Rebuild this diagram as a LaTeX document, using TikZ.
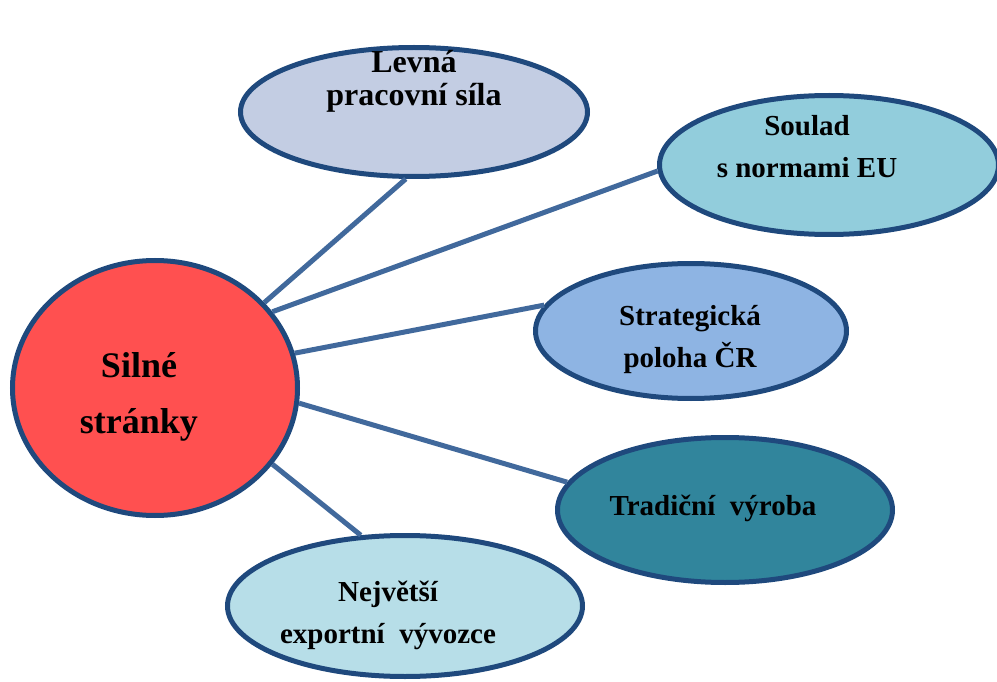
\documentclass[tikz,border=0pt]{standalone}
\usepackage{fontspec}
\setmainfont{Liberation Serif}
\usetikzlibrary{shapes.geometric}

\definecolor{rimblue}{HTML}{1F497D}
\definecolor{linkblue}{HTML}{41699C}
\definecolor{corered}{HTML}{FF5050}
\definecolor{greyblue}{HTML}{C3CDE3}
\definecolor{aqua}{HTML}{92CDDC}
\definecolor{skyblue}{HTML}{8EB4E3}
\definecolor{teal}{HTML}{31859C}
\definecolor{paleaqua}{HTML}{B7DEE8}

\begin{document}
\begin{tikzpicture}[x=1pt, y=-1pt,
  bubble/.style={ellipse, draw=rimblue, line width=5pt, inner sep=0pt},
  caption/.style={anchor=base, align=center, font=\bfseries\fontsize{29}{42}\selectfont},
  link/.style={draw=linkblue, line width=5pt}]

\useasboundingbox (0,0) rectangle (997,682);
\clip (0,0) rectangle (997,682);

% Centre
\node[bubble, fill=corered, minimum width=285, minimum height=255] (silne) at (155,388) {};
\node[caption, font=\bfseries\fontsize{36}{56}\selectfont] (silneT) at (139,433) {Silné\\stránky};

% Surrounding bubbles
\node[bubble, fill=greyblue, minimum width=347, minimum height=129] (levna) at (414,112) {};
\node[caption, font=\bfseries\fontsize{32}{33}\selectfont] (levnaT) at (414,106) {Levná\\pracovní síla};

\node[bubble, fill=aqua, minimum width=339, minimum height=139] (soulad) at (829,165) {};
\node[caption] (souladT) at (807,178) {Soulad\\s normami EU};

\node[bubble, fill=skyblue, minimum width=311, minimum height=135] (poloha) at (691,331) {};
\node[caption] (polohaT) at (690,367) {Strategická\\poloha ČR};

\node[bubble, fill=teal, minimum width=335, minimum height=145] (vyroba) at (725,510) {};
\node[caption] (vyrobaT) at (713,515) {Tradiční\ \ výroba};

\node[bubble, fill=paleaqua, minimum width=355, minimum height=141] (vyvozce) at (405,606) {};
\node[caption] (vyvozceT) at (388,643) {Největší\\exportní\ \ vývozce};

% Connectors
\draw[link] (silne.38.7) -- (levna.-97);
\draw[link] (silne.33) -- (soulad.182);
\draw[link] (silne.14.4) -- (poloha.170);
\draw[link] (silne.-6.7) -- (vyroba.170);
\draw[link] (silne.-33) -- (vyvozce.122);

\end{tikzpicture}
\end{document}
